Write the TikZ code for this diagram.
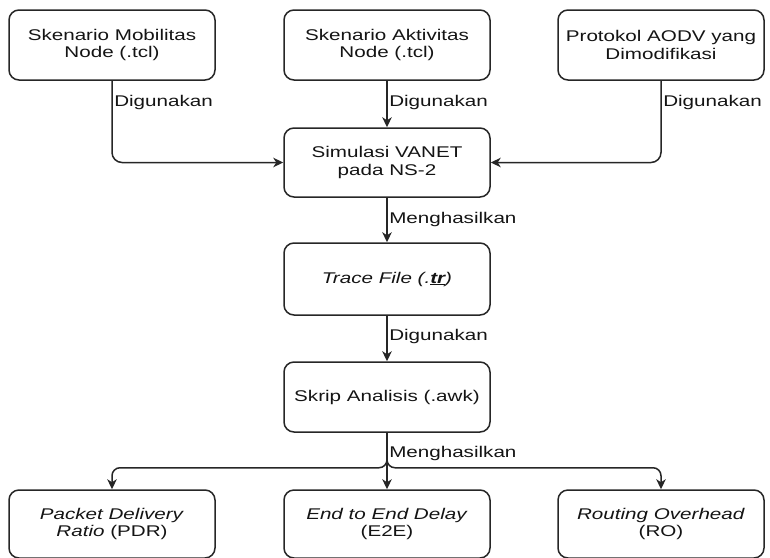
\documentclass[tikz,border=0pt]{standalone}
\usepackage{fontspec}
\setmainfont{Liberation Sans}[FakeStretch=1.33]
\usetikzlibrary{arrows.meta}
\begin{document}
\begin{tikzpicture}[x=1pt,y=-1pt,
  txt/.style={font=\fontsize{15.5}{17.5}\selectfont, text=black!92},
  box/.style={txt, draw=black!85, line width=1.5pt, rounded corners=10pt,
    minimum width=206pt, minimum height=70pt, align=center, inner sep=0pt},
  arr/.style={draw=black!85, line width=1.5pt,
    -{Stealth[length=10pt,width=9.5pt,inset=3pt]}},
  lbl/.style={txt, anchor=west, inner sep=1.5pt}]
\useasboundingbox (0,0) rectangle (770,557);
\clip (0,0) rectangle (770,557);

% inputs
\node[box] (mob) at (112,45) {Skenario Mobilitas\\Node (.tcl)};
\node[box] (akt) at (387,45) {Skenario Aktivitas\\Node (.tcl)};
\node[box] (aodv) at (661,45) {Protokol AODV yang\\Dimodifikasi};

% processing chain
\node[box, minimum height=69pt] (sim) at (387,162.5) {Simulasi VANET\\pada NS-2};
\node[box, minimum height=72pt] (trace) at (387,279) {\textit{Trace File (.\underline{\textbf{tr}})}};
\node[box] (awk) at (387,397) {Skrip Analisis (.awk)};

% results
\node[box, minimum height=68pt] (pdr) at (112,524) {\textit{Packet Delivery}\\\textit{Ratio} (PDR)};
\node[box, minimum height=68pt] (e2e) at (387,524) {\textit{End to End Delay}\\(E2E)};
\node[box, minimum height=68pt] (ro) at (661,524) {\textit{Routing Overhead}\\(RO)};

% connectors
\draw[arr, rounded corners=10pt] (mob.south) |- node[lbl, pos=0.13] {Digunakan} (sim.west);
\draw[arr] (akt.south) -- node[lbl, pos=0.46] {Digunakan} (sim.north);
\draw[arr, rounded corners=10pt] (aodv.south) |- node[lbl, pos=0.13] {Digunakan} (sim.east);
\draw[arr] (sim.south) -- node[lbl, pos=0.48] {Menghasilkan} (trace.north);
\draw[arr] (trace.south) -- node[lbl, pos=0.45] {Digunakan} (awk.north);
\draw[arr] (awk.south) -- node[lbl, pos=0.36] {Menghasilkan} (e2e.north);
\draw[arr, rounded corners=8pt] (awk.south) -- ++(0,35) -| (pdr.north);
\draw[arr, rounded corners=8pt] (awk.south) -- ++(0,35) -| (ro.north);
\end{tikzpicture}
\end{document}
